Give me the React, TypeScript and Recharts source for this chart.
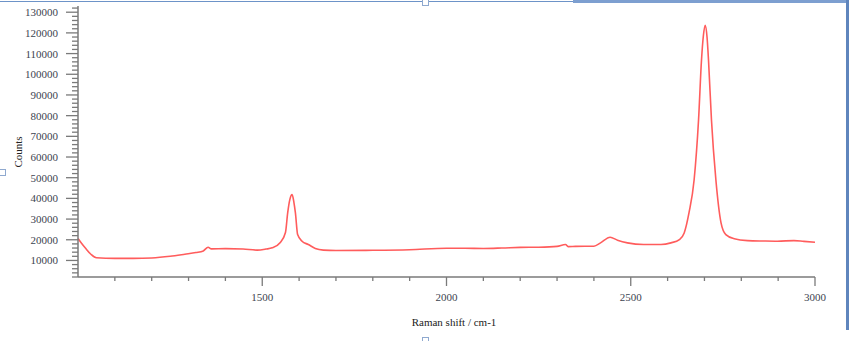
import React from "react";
import { LineChart, Line, XAxis, YAxis } from "recharts";

// Raman spectrum, values
const shift = [
  1000, 1010, 1020, 1035, 1050, 1100, 1150, 1200, 1250, 1290, 1320, 1340, 1353, 1362, 1400, 1448,
  1486, 1510, 1527, 1549, 1563, 1569, 1575, 1581, 1586, 1590, 1596, 1608, 1625, 1644, 1666, 1700,
  1800, 1900, 2000, 2050, 2100, 2150, 2200, 2250, 2300, 2323, 2330, 2350, 2400, 2418, 2444, 2464,
  2491, 2535, 2582, 2609, 2632, 2645, 2658, 2672, 2684, 2692, 2697, 2702, 2707, 2711, 2719, 2731,
  2745, 2758, 2781, 2817, 2860, 2898, 2943, 2970, 3000,
];
const counts = [
  20600, 18200, 16000, 13000, 11300, 11000, 11000, 11200, 12000, 13000, 13800, 14600, 16400, 15600, 15700, 15500,
  15000, 15500, 16100, 18700, 23500, 33000, 39500, 41800, 38000, 33000, 22500, 19300, 17700, 15800, 15000, 14800,
  14900, 15200, 15900, 15900, 15800, 16000, 16300, 16400, 16800, 17700, 16700, 16800, 16900, 18500, 21200, 19800,
  18500, 17700, 17700, 18500, 20100, 23300, 33000, 49000, 78000, 106900, 118500, 123700, 118000, 106900, 78000, 49000,
  28200, 22500, 20500, 19600, 19400, 19300, 19600, 19200, 18800,
];

// ticks: minor every 100 / 2000, labels on majors only
const xTicks = Array.from({ length: 20 }, (_, i) => 1100 + i * 100);
const yTicks = Array.from({ length: 66 }, (_, i) => 2000 + i * 2000);

const data = shift.map((s, i) => ({ shift: s, counts: counts[i] }));

const FONT = "'Liberation Serif', 'DejaVu Serif', serif";
const AXIS = "#7a7a7a";
const TEXT = "#3c4450";

const XTick = (props: any) => {
  const { x, y, payload } = props;
  const v = payload.value as number;
  const major = v % 500 === 0;
  return (
    <g>
      <line x1={x} y1={y} x2={x} y2={y + (major ? 9 : 4)} stroke={AXIS} strokeWidth={1.3} />
      {major && (
        <text x={x} y={y + 24} textAnchor="middle" fontSize={11} fontFamily={FONT} fill={TEXT}>
          {v}
        </text>
      )}
    </g>
  );
};

const YTick = (props: any) => {
  const { x, y, payload } = props;
  const v = payload.value as number;
  const major = v % 10000 === 0;
  return (
    <g>
      <line x1={x - (major ? 12 : 6)} y1={y} x2={x} y2={y} stroke={AXIS} strokeWidth={1.3} />
      {major && (
        <text x={x - 20} y={y + 4} textAnchor="end" fontSize={11} fontFamily={FONT} fill={TEXT}>
          {v}
        </text>
      )}
    </g>
  );
};

export default function App() {
  return (
    <div style={{ position: "absolute", left: 0, top: 0, width: 851, height: 341, background: "#fff" }}>
      {/* selection frame around the embedded chart */}
      <div style={{ position: "absolute", left: 0, top: 1, width: 848, height: 1, background: "#6d93c8" }} />
      <div style={{ position: "absolute", left: 573, top: 0, width: 276, height: 3, background: "#7d9fd0" }} />
      <div style={{ position: "absolute", left: 846, top: 0, width: 3, height: 330, background: "#5f85bd" }} />
      <div style={{ position: "absolute", left: 422, top: -1, width: 5, height: 5, border: "1px solid #8fa9cf", background: "#fff" }} />
      <div style={{ position: "absolute", left: -1, top: 169, width: 5, height: 5, border: "1px solid #8fa9cf", background: "#fff" }} />
      <div style={{ position: "absolute", left: 422, top: 337, width: 5, height: 5, border: "1px solid #8fa9cf", background: "#fff" }} />

      <LineChart width={851} height={341} data={data} margin={{ top: 6, right: 36, left: 0, bottom: 0 }}>
        <XAxis
          dataKey="shift"
          type="number"
          domain={[1000, 3000]}
          ticks={xTicks}
          interval={0}
          tickSize={0}
          tickMargin={0}
          tickLine={false}
          tick={<XTick />}
          height={64}
          axisLine={{ stroke: AXIS, strokeWidth: 1.5 }}
          label={{
            content: () => (
              <text x={454} y={326} textAnchor="middle" fontSize={11} fontFamily={FONT} fill="#222">
                Raman shift / cm-1
              </text>
            ),
          }}
        />
        <YAxis
          type="number"
          domain={[2000, 133000]}
          ticks={yTicks}
          interval={0}
          tickSize={0}
          tickMargin={0}
          tickLine={false}
          tick={<YTick />}
          width={78}
          axisLine={{ stroke: AXIS, strokeWidth: 1.5 }}
          label={{
            content: () => (
              <text
                x={22}
                y={152}
                transform="rotate(-90 22 152)"
                textAnchor="middle"
                fontSize={11}
                fontFamily={FONT}
                fill="#222"
              >
                Counts
              </text>
            ),
          }}
        />
        <Line
          type="monotone"
          dataKey="counts"
          stroke="#ff5c5c"
          strokeWidth={1.6}
          dot={false}
          isAnimationActive={false}
        />
      </LineChart>
    </div>
  );
}
